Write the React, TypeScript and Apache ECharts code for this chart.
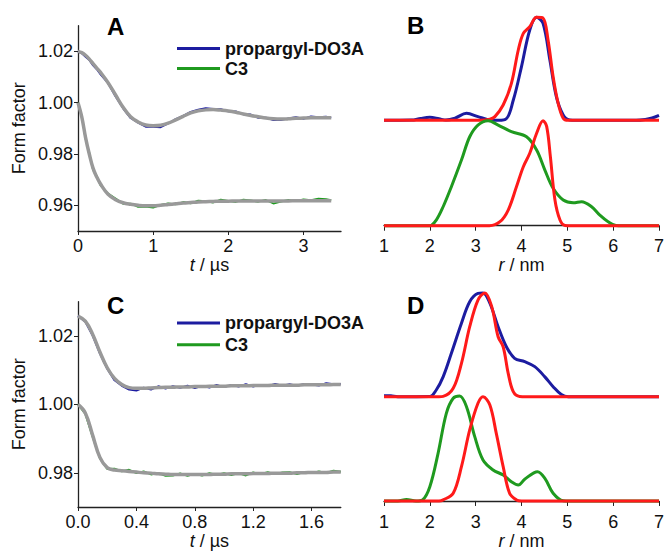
import React, { useEffect, useRef } from "react";
import * as echarts from "echarts";

// ---------- Panel A: time traces ----------
const tA = [0, 0.05, 0.1, 0.15, 0.2, 0.25, 0.3, 0.4, 0.5, 0.6, 0.7, 0.8, 0.9, 1.0, 1.1, 1.2, 1.3, 1.4, 1.5, 1.6, 1.7, 1.8, 1.9, 2.0, 2.1, 2.2, 2.3, 2.4, 2.5, 2.6, 2.7, 2.8, 2.9, 3.0, 3.1, 3.2, 3.3, 3.37];
const blueRawA = [1.0200, 1.0192, 1.0179, 1.0166, 1.0145, 1.0130, 1.0110, 1.0076, 1.0024, 0.9978, 0.9940, 0.9922, 0.9906, 0.9906, 0.9904, 0.9919, 0.9936, 0.9949, 0.9964, 0.9973, 0.9979, 0.9976, 0.9975, 0.9966, 0.9966, 0.9955, 0.9954, 0.9941, 0.9942, 0.9932, 0.9932, 0.9939, 0.9944, 0.9937, 0.9947, 0.9944, 0.9946, 0.9942];
const blueFitA = [1.0200, 1.0195, 1.0185, 1.0170, 1.0152, 1.0135, 1.0118, 1.0078, 1.0030, 0.9982, 0.9945, 0.9925, 0.9913, 0.9910, 0.9912, 0.9920, 0.9933, 0.9947, 0.9960, 0.9968, 0.9972, 0.9973, 0.9971, 0.9968, 0.9963, 0.9956, 0.9950, 0.9945, 0.9940, 0.9937, 0.9936, 0.9937, 0.9939, 0.9940, 0.9941, 0.9941, 0.9941, 0.9941];
const greenRawA = [1.0000, 0.9949, 0.9859, 0.9805, 0.9738, 0.9714, 0.9678, 0.9646, 0.9627, 0.9606, 0.9607, 0.9594, 0.9595, 0.9591, 0.9602, 0.9608, 0.9604, 0.9613, 0.9608, 0.9618, 0.9616, 0.9611, 0.9622, 0.9617, 0.9613, 0.9622, 0.9619, 0.9614, 0.9621, 0.9607, 0.9614, 0.9621, 0.9616, 0.9623, 0.9620, 0.9626, 0.9624, 0.9620];
const greenFitA = [1.0000, 0.9945, 0.9865, 0.9800, 0.9745, 0.9710, 0.9683, 0.9643, 0.9622, 0.9610, 0.9604, 0.9600, 0.9598, 0.9598, 0.9600, 0.9603, 0.9606, 0.9609, 0.9611, 0.9613, 0.9614, 0.9615, 0.9616, 0.9616, 0.9617, 0.9617, 0.9617, 0.9617, 0.9617, 0.9617, 0.9617, 0.9617, 0.9618, 0.9618, 0.9618, 0.9618, 0.9618, 0.9618];

// ---------- Panel C: time traces ----------
const tC = [0, 0.05, 0.1, 0.15, 0.2, 0.25, 0.3, 0.35, 0.4, 0.45, 0.5, 0.55, 0.6, 0.65, 0.7, 0.75, 0.8, 0.85, 0.9, 0.95, 1.0, 1.05, 1.1, 1.15, 1.2, 1.25, 1.3, 1.35, 1.4, 1.45, 1.5, 1.55, 1.6, 1.65, 1.7, 1.75, 1.8];
const blueRawC = [1.0258, 1.0241, 1.0201, 1.0148, 1.0104, 1.0070, 1.0054, 1.0043, 1.0040, 1.0049, 1.0043, 1.0053, 1.0046, 1.0053, 1.0048, 1.0055, 1.0047, 1.0054, 1.0049, 1.0057, 1.0050, 1.0057, 1.0052, 1.0059, 1.0052, 1.0057, 1.0053, 1.0060, 1.0055, 1.0059, 1.0054, 1.0060, 1.0058, 1.0055, 1.0062, 1.0059, 1.0060];
const blueFitC = [1.0258, 1.0243, 1.0205, 1.0153, 1.0107, 1.0076, 1.0058, 1.0049, 1.0047, 1.0047, 1.0048, 1.0049, 1.0050, 1.0050, 1.0051, 1.0051, 1.0052, 1.0052, 1.0053, 1.0053, 1.0053, 1.0054, 1.0054, 1.0054, 1.0055, 1.0055, 1.0055, 1.0056, 1.0056, 1.0056, 1.0056, 1.0057, 1.0057, 1.0057, 1.0057, 1.0058, 1.0058];
const greenRawC = [1.0000, 0.9972, 0.9905, 0.9842, 0.9811, 0.9812, 0.9804, 0.9809, 0.9799, 0.9804, 0.9795, 0.9799, 0.9791, 0.9792, 0.9798, 0.9791, 0.9797, 0.9792, 0.9799, 0.9794, 0.9799, 0.9793, 0.9799, 0.9792, 0.9801, 0.9796, 0.9802, 0.9796, 0.9801, 0.9802, 0.9796, 0.9802, 0.9799, 0.9804, 0.9800, 0.9806, 0.9803];
const greenFitC = [1.0000, 0.9975, 0.9910, 0.9845, 0.9815, 0.9808, 0.9806, 0.9804, 0.9802, 0.9800, 0.9799, 0.9797, 0.9796, 0.9795, 0.9795, 0.9795, 0.9795, 0.9795, 0.9795, 0.9796, 0.9796, 0.9797, 0.9797, 0.9797, 0.9798, 0.9798, 0.9798, 0.9799, 0.9799, 0.9799, 0.9800, 0.9800, 0.9801, 0.9801, 0.9801, 0.9802, 0.9802];

// ---------- Panel B: distance distributions ----------
const rBlueB = [1, 1.6, 1.8, 2.0, 2.2, 2.35, 2.55, 2.8, 3.05, 3.25, 3.4, 3.65, 3.82, 4.0, 4.18, 4.33, 4.47, 4.62, 4.76, 4.91, 5.05, 5.2, 6.5, 6.7, 6.85, 7];
const pBlueB = [0, 0.002, 0.018, 0.028, 0.014, 0.002, 0.02, 0.066, 0.035, 0.008, 0, 0.01, 0.19, 0.51, 0.857, 0.977, 0.92, 0.57, 0.224, 0.05, 0.003, 0, 0, 0.008, 0.022, 0.047];
const rRedB1 = [1, 3.1, 3.31, 3.42, 3.6, 3.78, 3.93, 4.04, 4.18, 4.33, 4.47, 4.58, 4.69, 4.8, 4.91, 5.02, 5.2, 7];
const pRedB1 = [0, 0, 0.01, 0.035, 0.145, 0.351, 0.667, 0.825, 0.888, 0.977, 0.97, 0.76, 0.414, 0.161, 0.02, 0, 0, 0];
const rGreenB = [1, 2.0, 2.14, 2.29, 2.47, 2.69, 2.87, 3.05, 3.27, 3.49, 3.78, 4.11, 4.33, 4.51, 4.69, 4.91, 5.13, 5.31, 5.53, 5.71, 5.89, 6.06, 6.2, 7];
const pGreenB = [0, 0, 0.054, 0.18, 0.37, 0.623, 0.844, 0.955, 0.996, 0.955, 0.892, 0.844, 0.718, 0.528, 0.355, 0.244, 0.218, 0.228, 0.18, 0.1, 0.038, 0.002, 0, 0];
const rRedB2 = [1, 3.3, 3.53, 3.71, 3.89, 4.04, 4.18, 4.33, 4.47, 4.55, 4.63, 4.73, 4.84, 4.95, 5.1, 7];
const pRedB2 = [0, 0, 0.038, 0.149, 0.37, 0.56, 0.687, 0.877, 0.996, 0.94, 0.655, 0.244, 0.054, 0.003, 0, 0];

// ---------- Panel D: distance distributions ----------
const rBlueD = [1, 1.15, 1.3, 2.0, 2.14, 2.29, 2.47, 2.69, 2.87, 3.05, 3.16, 3.31, 3.49, 3.67, 3.85, 4.07, 4.29, 4.51, 4.69, 4.87, 5.02, 5.2, 7];
const pBlueD = [0.01, 0.008, 0, 0.002, 0.064, 0.19, 0.416, 0.704, 0.91, 0.99, 0.995, 0.896, 0.671, 0.479, 0.368, 0.336, 0.288, 0.19, 0.096, 0.02, 0, 0, 0];
const rRedD1 = [1, 2.2, 2.29, 2.51, 2.69, 2.87, 3.05, 3.2, 3.35, 3.49, 3.6, 3.71, 3.82, 3.96, 4.1, 7];
const pRedD1 = [0, 0, 0.003, 0.08, 0.32, 0.671, 0.927, 0.995, 0.864, 0.575, 0.479, 0.224, 0.048, 0.002, 0, 0];
const rGreenD = [1, 1.3, 1.49, 1.7, 1.84, 2.0, 2.18, 2.36, 2.51, 2.65, 2.8, 2.98, 3.16, 3.38, 3.6, 3.78, 3.93, 4.07, 4.35, 4.51, 4.69, 4.91, 5.05, 7];
const pGreenD = [0, 0, 0.013, 0, 0.01, 0.137, 0.457, 0.84, 0.985, 1.006, 0.904, 0.617, 0.393, 0.297, 0.249, 0.185, 0.153, 0.208, 0.281, 0.217, 0.074, 0.002, 0, 0];
const rRedD2 = [1, 2.2, 2.29, 2.51, 2.69, 2.87, 3.05, 3.16, 3.31, 3.45, 3.6, 3.74, 3.89, 4.0, 7];
const pRedD2 = [0, 0, 0.01, 0.074, 0.329, 0.681, 0.937, 1.0, 0.92, 0.648, 0.329, 0.074, 0.01, 0, 0];

const timeTicksA = [0, 1, 2, 3];
const timeTicksC = [0, 0.4, 0.8, 1.2, 1.6];
const ffTicksA = [0.96, 0.98, 1.0, 1.02];
const ffTicksC = [0.98, 1.0, 1.02];
const rTicks = [1, 2, 3, 4, 5, 6, 7];
const OFFSET = 1; // vertical offset of the upper distributions

const BLUE = "#1c1ca0";
const GREEN = "#1f9a1f";
const RED = "#ff1a1a";
const GRAY = "#999999";
const FONT = "Liberation Sans";
const TXT = "#111";

const pairs = (xs: number[], ys: number[], off = 0) => xs.map((x, i) => [x, ys[i] + off]);

export default function App() {
  const ref = useRef<HTMLDivElement>(null);
  useEffect(() => {
    document.body.style.margin = "0";
    const chart = echarts.init(ref.current!, null, { renderer: "svg" });
    const axisLine = { lineStyle: { color: "#222", width: 1.3 } };
    const label = (vals: number[], digits: number) => ({
      customValues: vals,
      fontSize: 18,
      color: TXT,
      fontFamily: FONT,
      formatter: (v: number) => v.toFixed(digits),
    });
    const xName = (sym: string, unit: string, gap: number) => ({
      name: `{i|${sym}} / ${unit}`,
      nameLocation: "middle",
      nameGap: gap,
      nameTextStyle: {
        fontSize: 18,
        color: TXT,
        fontFamily: FONT,
        rich: { i: { fontStyle: "italic", fontSize: 18, color: TXT, fontFamily: FONT } },
      },
    });
    const yName = {
      name: "Form factor",
      nameLocation: "middle",
      nameGap: 50,
      nameRotate: 90,
      nameTextStyle: { fontSize: 18, color: TXT, fontFamily: FONT },
    };
    const tLine = (name: string, xi: number, data: any[], color: string, width: number, smooth: any = false) => ({
      type: "line",
      name,
      xAxisIndex: xi,
      yAxisIndex: xi,
      data,
      showSymbol: false,
      smooth,
      lineStyle: { color, width },
      itemStyle: { color },
      z: 2,
    });
    const legendBase = {
      orient: "vertical",
      icon: "rect",
      itemWidth: 43,
      itemHeight: 3,
      padding: 0,
      selectedMode: false,
      textStyle: { fontSize: 18, fontWeight: "bold", color: TXT, fontFamily: FONT },
      data: ["propargyl-DO3A", "C3"],
    };
    const panelLabel = (text: string, x: number, y: number) => ({
      type: "text",
      x,
      y,
      style: { text, font: `bold 24px "${FONT}"`, fill: "#000", textAlign: "left", textVerticalAlign: "middle" },
    });
    chart.setOption({
      animation: false,
      backgroundColor: "#fff",
      grid: [
        { left: 78, top: 25.7, width: 263, height: 205.3 },
        { left: 384, top: 14.9, width: 275.3, height: 216.1 },
        { left: 78, top: 301.7, width: 262.8, height: 206 },
        { left: 384, top: 292.4, width: 275, height: 214.3 },
      ],
      xAxis: [
        { type: "value", gridIndex: 0, min: 0, max: 3.5, axisLine, axisTick: { customValues: timeTicksA, length: 4, lineStyle: { color: "#222" } }, axisLabel: { ...label(timeTicksA, 0), margin: 6 }, splitLine: { show: false }, ...xName("t", "µs", 25) },
        { type: "value", gridIndex: 1, min: 1, max: 7, axisLine, axisTick: { customValues: rTicks, length: 5, lineStyle: { color: "#222" } }, axisLabel: { ...label(rTicks, 0), margin: 6 }, splitLine: { show: false }, ...xName("r", "nm", 25) },
        { type: "value", gridIndex: 2, min: 0, max: 1.8, axisLine, axisTick: { customValues: timeTicksC, length: 4, lineStyle: { color: "#222" } }, axisLabel: { ...label(timeTicksC, 1), margin: 6 }, splitLine: { show: false }, ...xName("t", "µs", 25) },
        { type: "value", gridIndex: 3, min: 1, max: 7, axisLine, axisTick: { customValues: rTicks, length: 5, lineStyle: { color: "#222" } }, axisLabel: { ...label(rTicks, 0), margin: 6 }, splitLine: { show: false }, ...xName("r", "nm", 25) },
      ],
      yAxis: [
        { type: "value", gridIndex: 0, min: 0.95, max: 1.03, axisLine: { show: true, ...axisLine }, axisTick: { show: true, customValues: ffTicksA, length: 4, lineStyle: { color: "#222" } }, axisLabel: { ...label(ffTicksA, 2), margin: 5 }, splitLine: { show: false }, ...yName },
        { type: "value", gridIndex: 1, min: -0.05, max: 2.0, show: false },
        { type: "value", gridIndex: 2, min: 0.97, max: 1.03, axisLine: { show: true, ...axisLine }, axisTick: { show: true, customValues: ffTicksC, length: 4, lineStyle: { color: "#222" } }, axisLabel: { ...label(ffTicksC, 2), margin: 5 }, splitLine: { show: false }, ...yName },
        { type: "value", gridIndex: 3, min: -0.055, max: 2.0, show: false },
      ],
      legend: [
        { ...legendBase, left: 177, top: 39.5, itemGap: 2 },
        { ...legendBase, left: 177, top: 314, itemGap: 3.7 },
      ],
      graphic: [
        panelLabel("A", 107, 26.5),
        panelLabel("B", 407, 25.5),
        panelLabel("C", 107, 305),
        panelLabel("D", 407, 305),
      ],
      series: [
        tLine("propargyl-DO3A", 0, pairs(tA, blueRawA), BLUE, 1.8),
        tLine("C3", 0, pairs(tA, greenRawA), GREEN, 1.8),
        tLine("fitA1", 0, pairs(tA, blueFitA), GRAY, 3.5, 0.4),
        tLine("fitA2", 0, pairs(tA, greenFitA), GRAY, 3.5, 0.4),
        tLine("propargyl-DO3A", 2, pairs(tC, blueRawC), BLUE, 1.8),
        tLine("C3", 2, pairs(tC, greenRawC), GREEN, 1.8),
        tLine("fitC1", 2, pairs(tC, blueFitC), GRAY, 3.5, 0.4),
        tLine("fitC2", 2, pairs(tC, greenFitC), GRAY, 3.5, 0.4),
        tLine("distB_blue", 1, pairs(rBlueB, pBlueB, OFFSET), BLUE, 3, 0.35),
        tLine("distB_red1", 1, pairs(rRedB1, pRedB1, OFFSET), RED, 3, 0.35),
        tLine("distB_green", 1, pairs(rGreenB, pGreenB), GREEN, 3, 0.35),
        tLine("distB_red2", 1, pairs(rRedB2, pRedB2), RED, 3, 0.35),
        tLine("distD_blue", 3, pairs(rBlueD, pBlueD, OFFSET), BLUE, 3, 0.35),
        tLine("distD_red1", 3, pairs(rRedD1, pRedD1, OFFSET), RED, 3, 0.35),
        tLine("distD_green", 3, pairs(rGreenD, pGreenD), GREEN, 3, 0.35),
        tLine("distD_red2", 3, pairs(rRedD2, pRedD2), RED, 3, 0.35),
      ],
    });
    return () => chart.dispose();
  }, []);
  return <div ref={ref} style={{ position: "absolute", left: 0, top: 0, width: 667, height: 551 }} />;
}
